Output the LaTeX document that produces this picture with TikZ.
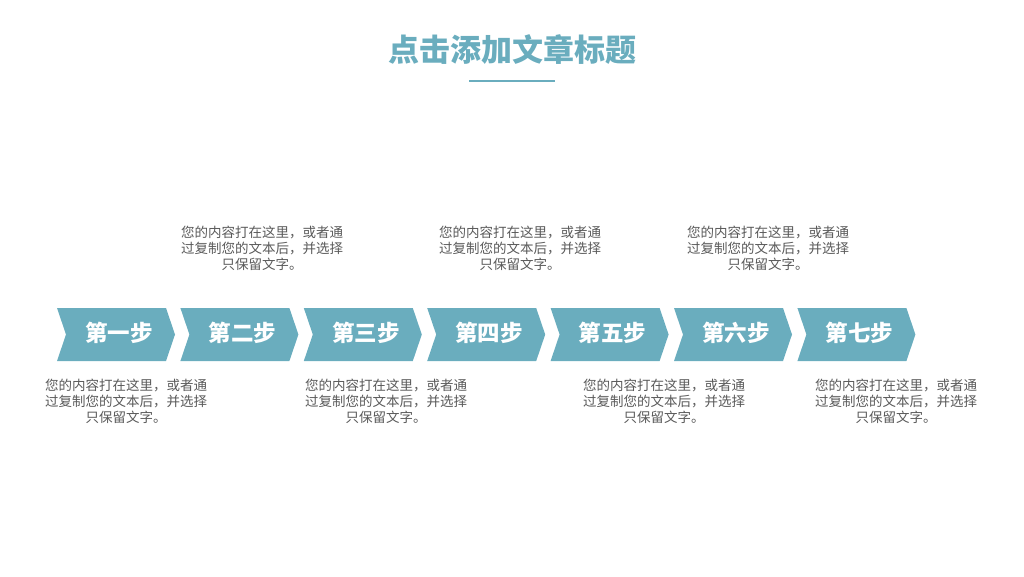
\documentclass[tikz,border=0pt]{standalone}
\usepackage{fontspec}
\setmainfont{Noto Sans CJK SC}
\newfontfamily\cjk{Noto Sans CJK SC}
\usetikzlibrary{positioning}
\definecolor{teal}{HTML}{6AADBE}
\definecolor{note}{HTML}{595959}

\begin{document}
\begin{tikzpicture}[
    x=1pt, y=-1pt,
    steparrow/.style={fill=teal, draw=none},
    steplabel/.style={text=white, font=\cjk\fontsize{22.5}{24}\selectfont\bfseries, inner sep=0pt},
    notetext/.style={text=note, align=center, inner sep=0pt,
        font=\cjk\fontsize{13.5}{16}\selectfont},
    titletext/.style={text=teal, font=\cjk\fontsize{31}{34}\selectfont\bfseries, inner sep=0pt},
]
  \useasboundingbox (0,0) rectangle (1024,576);

  % TITLE
  \node[titletext] (title) at (512,50) {点击添加文章标题};
  \coordinate (ruleL) at (469,81);
  \coordinate (ruleR) at (555,81);
  \draw[teal, line width=2pt] (ruleL) -- (ruleR);

  % START OF STEP ARROWS
  \foreach \i/\t in {1/第一步, 2/第二步, 3/第三步, 4/第四步, 5/第五步, 6/第六步, 7/第七步} {
    \pgfmathsetmacro\x{57+(\i-1)*123.4}
    \fill[steparrow] (\x,308) -- ++(109,0) -- ++(9,26.5) -- ++(-9,26.5)
        -- ++(-109,0) -- ++(9,-26.5) -- cycle;
    \node[steplabel] (step\i) at (\x+62,333) {\t};
  }

  % NOTES ABOVE
  \foreach \i/\x in {2/262, 4/520, 6/768} {
    \node[notetext] (note\i) at (\x,248) {您的内容打在这里，或者通\\过复制您的文本后，并选择\\只保留文字。};
  }
  % NOTES BELOW
  \foreach \i/\x in {1/126, 3/386, 5/664, 7/896} {
    \node[notetext] (note\i) at (\x,401) {您的内容打在这里，或者通\\过复制您的文本后，并选择\\只保留文字。};
  }

\end{tikzpicture}
\end{document}
